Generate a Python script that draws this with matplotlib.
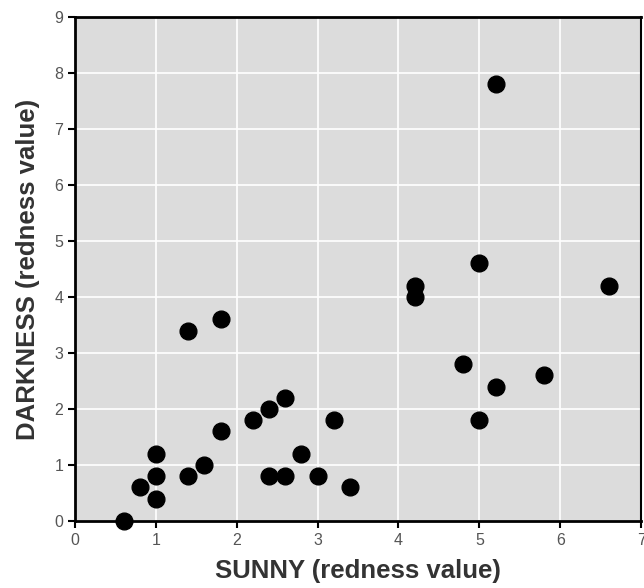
import matplotlib
matplotlib.use("Agg")
import matplotlib.pyplot as plt

sunny = [0.6, 0.8, 1.0, 1.0, 1.0, 1.4, 1.4, 1.6, 1.8, 1.8, 2.2, 2.4, 2.4, 2.6, 2.6,
         2.8, 3.0, 3.2, 3.4, 4.2, 4.2, 4.8, 5.0, 5.0, 5.2, 5.2, 5.8, 6.6]
darkness = [0.0, 0.6, 1.2, 0.8, 0.4, 3.4, 0.8, 1.0, 3.6, 1.6, 1.8, 2.0, 0.8, 2.2, 0.8,
            1.2, 0.8, 1.8, 0.6, 4.2, 4.0, 2.8, 4.6, 1.8, 7.8, 2.4, 2.6, 4.2]
x_ticks = [0, 1, 2, 3, 4, 5, 6, 7]
y_ticks = [0, 1, 2, 3, 4, 5, 6, 7, 8, 9]

plt.rcParams['font.family'] = ['Liberation Sans', 'DejaVu Sans']

fig = plt.figure(figsize=(6.44, 5.88), dpi=100)
ax = fig.add_axes([0.1165, 0.114, 0.879, 0.857])
ax.set_facecolor('#dcdcdc')
ax.set_xlim(0, 7)
ax.set_ylim(0, 9)
ax.set_xticks(x_ticks)
ax.set_yticks(y_ticks)
ax.grid(True, color='white', linewidth=1.2)
ax.set_axisbelow(True)
ax.scatter(sunny, darkness, s=145, color='black', zorder=3, clip_on=False)
for side in ['left', 'bottom', 'top', 'right']:
    ax.spines[side].set_color('black')
ax.spines['left'].set_linewidth(2)
ax.spines['bottom'].set_linewidth(2)
ax.spines['top'].set_linewidth(2)
ax.spines['right'].set_linewidth(1.5)
ax.tick_params(axis='both', colors='black', labelcolor='#555555', labelsize=11.5,
               length=5, width=1.5, direction='out')
ax.set_xlabel('SUNNY (redness value)', fontsize=18.5, fontweight='bold', color='#333333', labelpad=8)
ax.set_ylabel('DARKNESS (redness value)', fontsize=18.5, fontweight='bold', color='#333333', labelpad=10)
fig.savefig('out.png', dpi=100)
